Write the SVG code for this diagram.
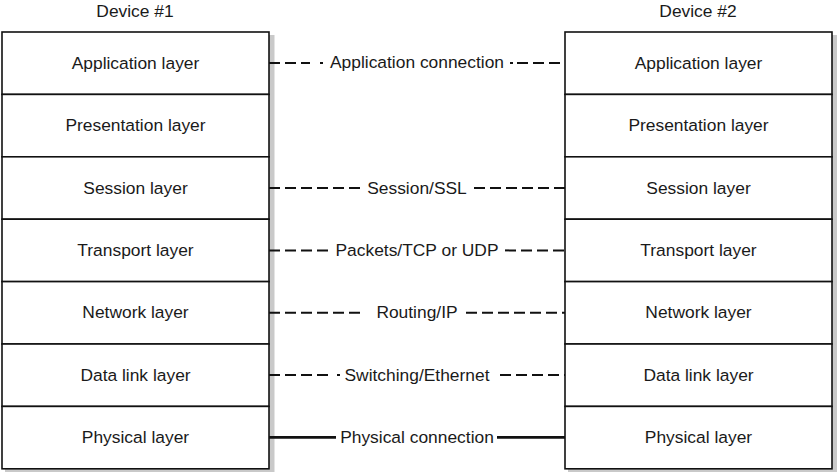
<svg xmlns="http://www.w3.org/2000/svg" width="840" height="476" viewBox="0 0 840 476">
<style>
  .bg { fill: #ffffff; }
  .shadow { fill: #c9c9c9; }
  .layer { fill: #ffffff; stroke: #111111; stroke-width: 1.6; }
  .t { font-family: "Liberation Sans", Arial, sans-serif; font-size: 17.4px; fill: #1a1a1a; text-anchor: middle; }
  .dash { fill: none; stroke: #111111; stroke-width: 2; stroke-dasharray: 11 5; }
  .dot { fill: none; stroke: #111111; stroke-width: 2; }
  .solid { fill: none; stroke: #111111; stroke-width: 2.6; }
</style>
<rect class="bg" x="0" y="0" width="840" height="476"/>

<g id="device1">
  <text class="t" x="135" y="17">Device #1</text>
  <rect class="shadow" x="5" y="35" width="269.5" height="437"/>
  <g id="d1-application"><rect class="layer" x="2" y="32" width="267" height="62.4"/><text class="t" x="135.5" y="68.7">Application layer</text></g>
  <g id="d1-presentation"><rect class="layer" x="2" y="94.4" width="267" height="62.4"/><text class="t" x="135.5" y="131.1">Presentation layer</text></g>
  <g id="d1-session"><rect class="layer" x="2" y="156.8" width="267" height="62.4"/><text class="t" x="135.5" y="193.5">Session layer</text></g>
  <g id="d1-transport"><rect class="layer" x="2" y="219.2" width="267" height="62.4"/><text class="t" x="135.5" y="255.9">Transport layer</text></g>
  <g id="d1-network"><rect class="layer" x="2" y="281.6" width="267" height="62.4"/><text class="t" x="135.5" y="318.3">Network layer</text></g>
  <g id="d1-datalink"><rect class="layer" x="2" y="344" width="267" height="62.4"/><text class="t" x="135.5" y="380.7">Data link layer</text></g>
  <g id="d1-physical"><rect class="layer" x="2" y="406.4" width="267" height="62.4"/><text class="t" x="135.5" y="443.1">Physical layer</text></g>
</g>

<g id="device2">
  <text class="t" x="698" y="17">Device #2</text>
  <rect class="shadow" x="568" y="35" width="269" height="437"/>
  <g id="d2-application"><rect class="layer" x="565" y="32" width="267" height="62.4"/><text class="t" x="698.5" y="68.7">Application layer</text></g>
  <g id="d2-presentation"><rect class="layer" x="565" y="94.4" width="267" height="62.4"/><text class="t" x="698.5" y="131.1">Presentation layer</text></g>
  <g id="d2-session"><rect class="layer" x="565" y="156.8" width="267" height="62.4"/><text class="t" x="698.5" y="193.5">Session layer</text></g>
  <g id="d2-transport"><rect class="layer" x="565" y="219.2" width="267" height="62.4"/><text class="t" x="698.5" y="255.9">Transport layer</text></g>
  <g id="d2-network"><rect class="layer" x="565" y="281.6" width="267" height="62.4"/><text class="t" x="698.5" y="318.3">Network layer</text></g>
  <g id="d2-datalink"><rect class="layer" x="565" y="344" width="267" height="62.4"/><text class="t" x="698.5" y="380.7">Data link layer</text></g>
  <g id="d2-physical"><rect class="layer" x="565" y="406.4" width="267" height="62.4"/><text class="t" x="698.5" y="443.1">Physical layer</text></g>
</g>

<g id="connectors">
  <g id="conn-application">
    <path class="dash" d="M269 63 H310"/>
    <path class="dot" d="M320 63 H323"/>
    <path class="dot" d="M510 63 H513"/>
    <path class="dash" d="M517 63 H565"/>
    <text class="t" x="417" y="67.5">Application connection</text>
  </g>
  <g id="conn-session">
    <path class="dash" d="M269 188 H362"/>
    <path class="dash" d="M565 188 H470"/>
    <text class="t" x="417" y="193.5">Session/SSL</text>
  </g>
  <g id="conn-transport">
    <path class="dash" d="M269 250.4 H330"/>
    <path class="dash" d="M505 250.4 H565"/>
    <text class="t" x="417" y="256">Packets/TCP or UDP</text>
  </g>
  <g id="conn-network">
    <path class="dash" d="M269 312.8 H362"/>
    <path class="dash" d="M466 312.8 H565"/>
    <text class="t" x="417" y="318.3">Routing/IP</text>
  </g>
  <g id="conn-datalink">
    <path class="dash" d="M269 375 H332"/>
    <path class="dot" d="M337 375 H340"/>
    <path class="dash" d="M500 375 H565"/>
    <text class="t" x="417" y="380.5">Switching/Ethernet</text>
  </g>
  <g id="conn-physical">
    <path class="solid" d="M269 437.4 H336"/>
    <path class="solid" d="M497 437.4 H565"/>
    <text class="t" x="417" y="442.8">Physical connection</text>
  </g>
</g>
</svg>
